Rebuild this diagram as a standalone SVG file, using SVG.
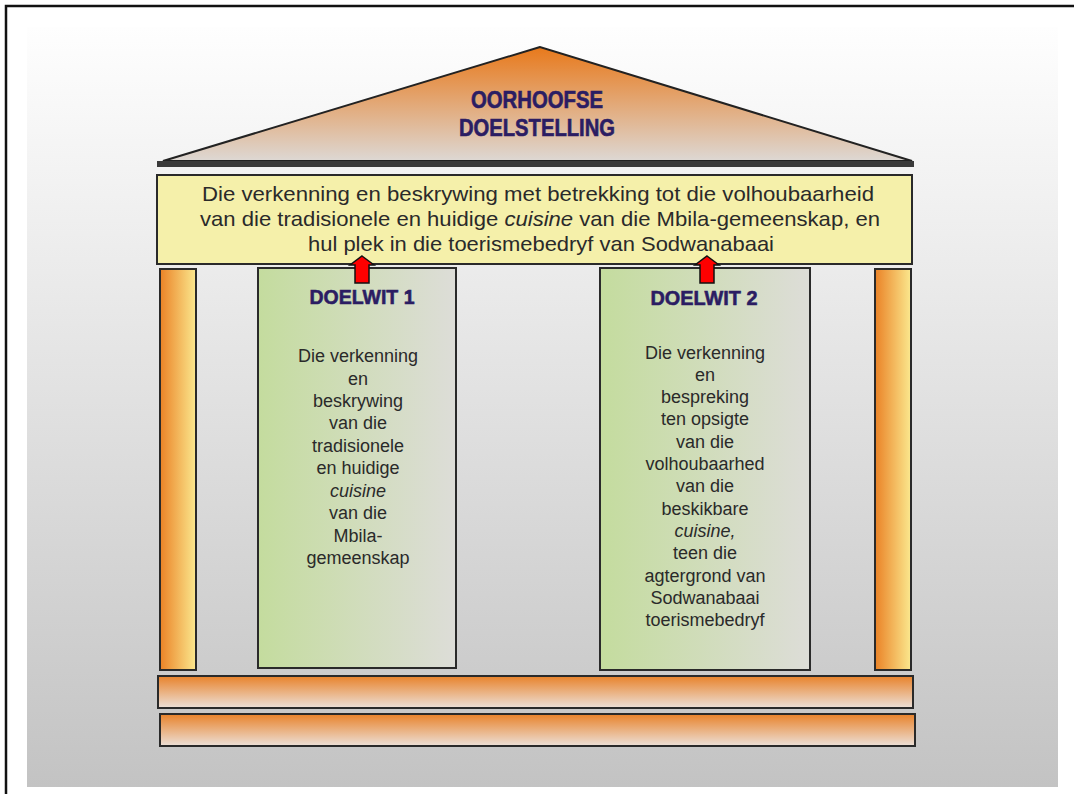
<svg xmlns="http://www.w3.org/2000/svg" width="1074" height="794" viewBox="0 0 1074 794">
<style>
.frame{fill:none;stroke:#111;stroke-width:2.5}
.box{stroke:#2a2a2a;stroke-width:2}
.title{font-family:"Liberation Sans",Arial,sans-serif;font-weight:bold;fill:#2b1d63;stroke:#2b1d63;stroke-width:0.6;text-anchor:middle}
.body{font-family:"Liberation Sans",Arial,sans-serif;fill:#2a2a2a;text-anchor:middle}
.arrow{fill:#ff0000;stroke:#111;stroke-width:1.5}
</style>
<defs>
<linearGradient id="bg" x1="0" y1="0" x2="0" y2="1"><stop offset="0" stop-color="#fefefe"/><stop offset="1" stop-color="#c3c3c3"/></linearGradient>
<linearGradient id="roof" x1="0" y1="0" x2="0" y2="1"><stop offset="0" stop-color="#e8791b"/><stop offset="1" stop-color="#ddd8d4"/></linearGradient>
<linearGradient id="step" x1="0" y1="0" x2="0" y2="1"><stop offset="0" stop-color="#e8822a"/><stop offset="1" stop-color="#ece0d8"/></linearGradient>
<linearGradient id="pillar" x1="0" y1="0" x2="1" y2="0"><stop offset="0" stop-color="#ea8226"/><stop offset="1" stop-color="#fbe88e"/></linearGradient>
<linearGradient id="green" x1="0" y1="0" x2="1" y2="0"><stop offset="0" stop-color="#c4dc9e"/><stop offset="1" stop-color="#ddddd8"/></linearGradient>
</defs>
<rect x="0" y="0" width="1074" height="794" fill="#ffffff"/>
<path class="frame" d="M6 794 V6 H1074"/>
<rect x="27" y="27" width="1031" height="760" fill="url(#bg)"/>

<g id="roof">
<polygon points="540,47 163,161 912,161" fill="url(#roof)" stroke="#222" stroke-width="2"/>
<rect x="157" y="161" width="757" height="6" fill="#3a3a3a"/>
<text class="title" x="537" y="108" font-size="23" textLength="132" lengthAdjust="spacingAndGlyphs">OORHOOFSE</text>
<text class="title" x="537" y="136" font-size="23" textLength="156" lengthAdjust="spacingAndGlyphs">DOELSTELLING</text>
</g>

<g id="entablature">
<rect class="box" x="157" y="175" width="755" height="89" fill="#f5f0aa"/>
<text class="body" x="538" y="201" font-size="21" textLength="672" lengthAdjust="spacingAndGlyphs">Die verkenning en beskrywing met betrekking tot die volhoubaarheid</text>
<text class="body" x="540" y="226" font-size="21" textLength="680" lengthAdjust="spacingAndGlyphs">van die tradisionele en huidige <tspan font-style="italic">cuisine</tspan> van die Mbila-gemeenskap, en</text>
<text class="body" x="541" y="251" font-size="21" textLength="466" lengthAdjust="spacingAndGlyphs">hul plek in die toerismebedryf van Sodwanabaai</text>
</g>

<g id="pillar-left"><rect class="box" x="160" y="269" width="36" height="401" fill="url(#pillar)"/></g>
<g id="pillar-right"><rect class="box" x="875" y="269" width="36" height="401" fill="url(#pillar)"/></g>

<g id="doelwit1">
<rect class="box" x="258" y="268" width="198" height="400" fill="url(#green)"/>
<text class="title" x="362" y="304" font-size="21" textLength="105" lengthAdjust="spacingAndGlyphs">DOELWIT 1</text>
<g class="body" font-size="18">
<text x="358" y="362">Die verkenning</text>
<text x="358" y="385">en</text>
<text x="358" y="407">beskrywing</text>
<text x="358" y="429">van die</text>
<text x="358" y="452">tradisionele</text>
<text x="358" y="474">en huidige</text>
<text x="358" y="497" font-style="italic">cuisine</text>
<text x="358" y="519">van die</text>
<text x="358" y="542">Mbila-</text>
<text x="358" y="564">gemeenskap</text>
</g>
</g>

<g id="doelwit2">
<rect class="box" x="600" y="268" width="210" height="402" fill="url(#green)"/>
<text class="title" x="704" y="305" font-size="21" textLength="107" lengthAdjust="spacingAndGlyphs">DOELWIT 2</text>
<g class="body" font-size="18">
<text x="705" y="359">Die verkenning</text>
<text x="705" y="381">en</text>
<text x="705" y="403">bespreking</text>
<text x="705" y="425">ten opsigte</text>
<text x="705" y="448">van die</text>
<text x="705" y="470">volhoubaarhed</text>
<text x="705" y="492">van die</text>
<text x="705" y="515">beskikbare</text>
<text x="705" y="537" font-style="italic">cuisine,</text>
<text x="705" y="559">teen die</text>
<text x="705" y="582">agtergrond van</text>
<text x="705" y="604">Sodwanabaai</text>
<text x="705" y="626">toerismebedryf</text>
</g>
</g>

<g id="base-1"><rect class="box" x="158" y="676" width="755" height="32" fill="url(#step)"/></g>
<g id="base-2"><rect class="box" x="160" y="714" width="755" height="32" fill="url(#step)"/></g>

<g id="connectors">
<polygon class="arrow" points="362,256 374,265 369,265 369,283 355,283 355,265 350,265"/>
<polygon class="arrow" points="707,256 719,265 714,265 714,283 700,283 700,265 695,265"/>
</g>
</svg>
